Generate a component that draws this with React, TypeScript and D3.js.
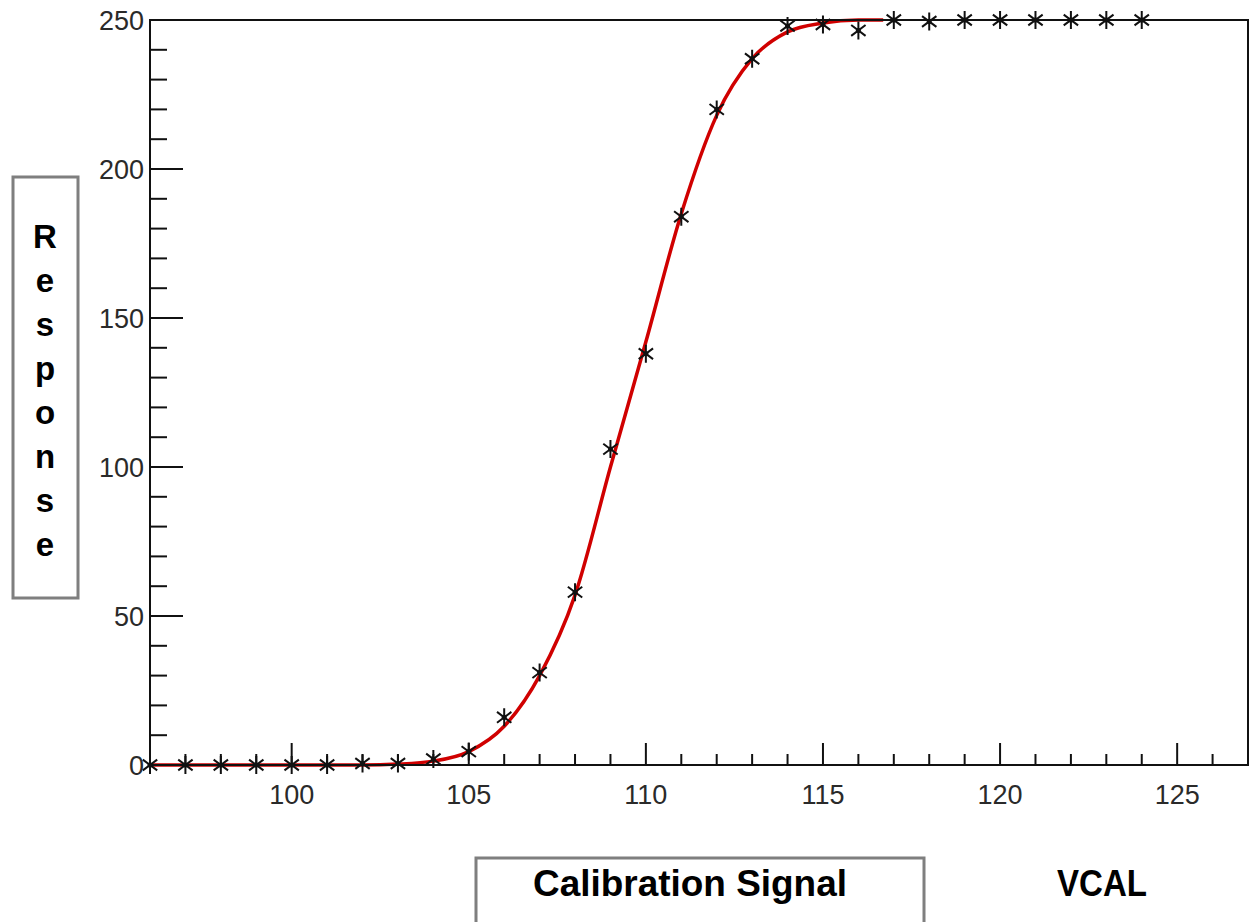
import React, { useEffect, useRef } from "react";
import * as d3 from "d3";

// measured points (VCAL scan)
const vcal = [96, 97, 98, 99, 100, 101, 102, 103, 104, 105, 106, 107, 108, 109, 110, 111, 112, 113, 114, 115, 116, 117, 118, 119, 120, 121, 122, 123, 124];
const response = [0, 0, 0, 0, 0, 0, 0.5, 0.5, 2, 4.5, 16, 31, 58, 106, 138, 184, 220, 237, 248, 248.5, 246.5, 250, 249.5, 250, 250, 250, 250, 250, 250];

// fitted S-curve
const fitX = [96, 100, 102, 103, 104, 105, 106, 107, 108, 109, 110, 111, 112, 113, 114, 115, 116, 116.7];
const fitY = [0, 0, 0, 0.3, 1.3, 4.5, 13, 30, 57, 100, 142, 185, 218, 237, 246, 249, 250, 250];

const xMajorTicks = [100, 105, 110, 115, 120, 125];
const yMajorTicks = [0, 50, 100, 150, 200, 250];
const yTitle = "Response";

const App: React.FC = () => {
  const svgRef = useRef<SVGSVGElement | null>(null);

  useEffect(() => {
    if (!svgRef.current) return;

    const width = 1251;
    const height = 922;
    const margin = { top: 20, right: 3, bottom: 157, left: 150 };
    const font = "'Liberation Sans', Arial, Helvetica, sans-serif";

    d3.select(svgRef.current).selectAll("*").remove();
    const svg = d3
      .select(svgRef.current)
      .attr("width", width)
      .attr("height", height);

    const x = d3
      .scaleLinear()
      .domain([96, 127])
      .range([margin.left, width - margin.right]);
    const y = d3
      .scaleLinear()
      .domain([0, 250])
      .range([height - margin.bottom, margin.top]);

    const x0 = x.range()[0];
    const x1 = x.range()[1];
    const y0 = y.range()[0];
    const y1 = y.range()[1];

    // minor / major ticks, ROOT style (inside the frame)
    const xTicks = d3.range(96, 128, 1);
    svg
      .append("g")
      .selectAll("line")
      .data(xTicks)
      .enter()
      .append("line")
      .attr("x1", (d) => x(d))
      .attr("x2", (d) => x(d))
      .attr("y1", y0)
      .attr("y2", (d) => y0 - (d % 5 === 0 ? 22 : 11))
      .attr("stroke", "#111")
      .attr("stroke-width", 2);

    const yTicks = d3.range(0, 251, 10);
    svg
      .append("g")
      .selectAll("line")
      .data(yTicks)
      .enter()
      .append("line")
      .attr("x1", x0)
      .attr("x2", (d) => x0 + (d % 50 === 0 ? 33 : 17))
      .attr("y1", (d) => y(d))
      .attr("y2", (d) => y(d))
      .attr("stroke", "#111")
      .attr("stroke-width", 2);

    // tick labels
    svg
      .append("g")
      .selectAll("text")
      .data(xMajorTicks)
      .enter()
      .append("text")
      .attr("x", (d) => x(d))
      .attr("y", y0 + 39)
      .attr("text-anchor", "middle")
      .attr("font-family", font)
      .attr("font-size", 27)
      .attr("fill", "#2a2a2a")
      .text((d) => d);

    svg
      .append("g")
      .selectAll("text")
      .data(yMajorTicks)
      .enter()
      .append("text")
      .attr("x", x0 - 6)
      .attr("y", (d) => y(d))
      .attr("dy", "0.36em")
      .attr("text-anchor", "end")
      .attr("font-family", font)
      .attr("font-size", 27)
      .attr("fill", "#2a2a2a")
      .text((d) => d);

    // fit curve
    const line = d3
      .line<number>()
      .x((d) => x(d))
      .y((_, i) => y(fitY[i]))
      .curve(d3.curveMonotoneX);
    svg
      .append("path")
      .attr("d", line(fitX))
      .attr("fill", "none")
      .attr("stroke", "#d00000")
      .attr("stroke-width", 3.5);

    // frame
    svg
      .append("rect")
      .attr("x", x0)
      .attr("y", y1)
      .attr("width", x1 - x0)
      .attr("height", y0 - y1)
      .attr("fill", "none")
      .attr("stroke", "#111")
      .attr("stroke-width", 2);

    // asterisk markers
    const r = 9;
    const star = `M0,${-r}L0,${r}M${-r * 0.8},${-r * 0.6}L${r * 0.8},${r * 0.6}M${-r * 0.8},${r * 0.6}L${r * 0.8},${-r * 0.6}`;
    svg
      .append("g")
      .selectAll("g")
      .data(vcal)
      .enter()
      .append("g")
      .attr("transform", (d, i) => `translate(${x(d)},${y(response[i])})`)
      .call((g) => {
        g.append("path")
          .attr("d", star)
          .attr("stroke", "#111")
          .attr("stroke-width", 2)
          .attr("fill", "none");
        g.append("circle").attr("r", 2.5).attr("fill", "#111");
      });

    // y title: stacked letters in a gray box
    svg
      .append("rect")
      .attr("x", 13)
      .attr("y", 177)
      .attr("width", 65)
      .attr("height", 421)
      .attr("fill", "none")
      .attr("stroke", "#7f7f7f")
      .attr("stroke-width", 3);
    svg
      .append("g")
      .selectAll("text")
      .data(yTitle.split(""))
      .enter()
      .append("text")
      .attr("x", 45)
      .attr("y", (_, i) => 248 + i * 44)
      .attr("text-anchor", "middle")
      .attr("font-family", font)
      .attr("font-weight", "bold")
      .attr("font-size", 33)
      .attr("fill", "#000")
      .text((d) => d);

    // x title
    svg
      .append("rect")
      .attr("x", 476)
      .attr("y", 858)
      .attr("width", 448)
      .attr("height", 80)
      .attr("fill", "none")
      .attr("stroke", "#7f7f7f")
      .attr("stroke-width", 3);
    svg
      .append("text")
      .attr("x", 690)
      .attr("y", 896)
      .attr("text-anchor", "middle")
      .attr("font-family", font)
      .attr("font-weight", "bold")
      .attr("font-size", 37)
      .attr("textLength", 314)
      .attr("lengthAdjust", "spacingAndGlyphs")
      .attr("fill", "#000")
      .text("Calibration Signal");
    svg
      .append("text")
      .attr("x", 1102)
      .attr("y", 896)
      .attr("text-anchor", "middle")
      .attr("font-family", font)
      .attr("font-weight", "bold")
      .attr("font-size", 37)
      .attr("textLength", 90)
      .attr("lengthAdjust", "spacingAndGlyphs")
      .attr("fill", "#000")
      .text("VCAL");
  }, []);

  return (
    <div style={{ position: "absolute", left: 0, top: 0, background: "#fff" }}>
      <svg ref={svgRef} style={{ display: "block" }}></svg>
    </div>
  );
};

export default App;
